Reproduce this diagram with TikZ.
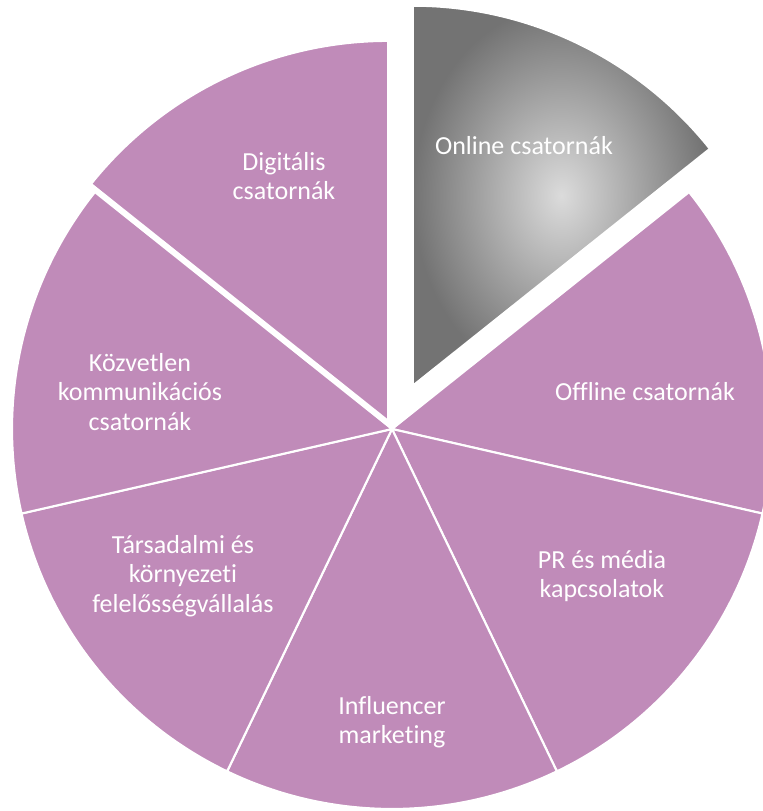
\documentclass[tikz,border=0pt]{standalone}
\usepackage{fontspec}
\setmainfont{Carlito}[Ligatures=NoCommon]
\definecolor{slicepurple}{RGB}{192,139,185}
\tikzset{
  slice/.style={fill=slicepurple, draw=white, line width=1.5pt, line join=round},
  lbl/.style={text=white, align=center, font=\fontsize{18.5}{21}\selectfont}
}

\begin{document}
\begin{tikzpicture}[x=0.025cm, y=0.025cm]

    \clip (0,0) rectangle (763,811);
    \coordinate (C) at (392,382);
    \coordinate (digitip) at (388.1,390.1);
    \coordinate (onlinetip) at (412.8,425.3);

    \foreach \k in {1,...,5} {
        \pgfmathsetmacro{\s}{90-\k*360/7}
        \pgfmathsetmacro{\e}{90-(\k+1)*360/7}
        \draw[slice] (C) -- ++(\s:380) arc[start angle=\s, end angle=\e, radius=380] -- cycle;
    }

    \draw[slice] (digitip) -- ++(141.43:380) arc[start angle=141.43, end angle=90, radius=380] -- cycle;

    \shadedraw[inner color=black!14, outer color=black!55, draw=white, line width=1.5pt]
        (onlinetip) -- ++(90:380) arc[start angle=90, end angle=38.57, radius=380] -- cycle;

    \node[lbl] (online) at (524,665) {Online csatornák};
    \node[lbl] (offline) at (645,419) {Offline csatornák};
    \node[lbl] (pr) at (602,235) {PR és média\\kapcsolatok};
    \node[lbl] (influencer) at (392,89) {Influencer\\marketing};
    \node[lbl] (tarsadalmi) at (183,235) {Társadalmi és\\környezeti\\felelősségvállalás};
    \node[lbl] (kozvetlen) at (140,419) {Közvetlen\\kommunikációs\\csatornák};
    \node[lbl] (digitalis) at (284,635) {Digitális\\csatornák};

\end{tikzpicture}
\end{document}
